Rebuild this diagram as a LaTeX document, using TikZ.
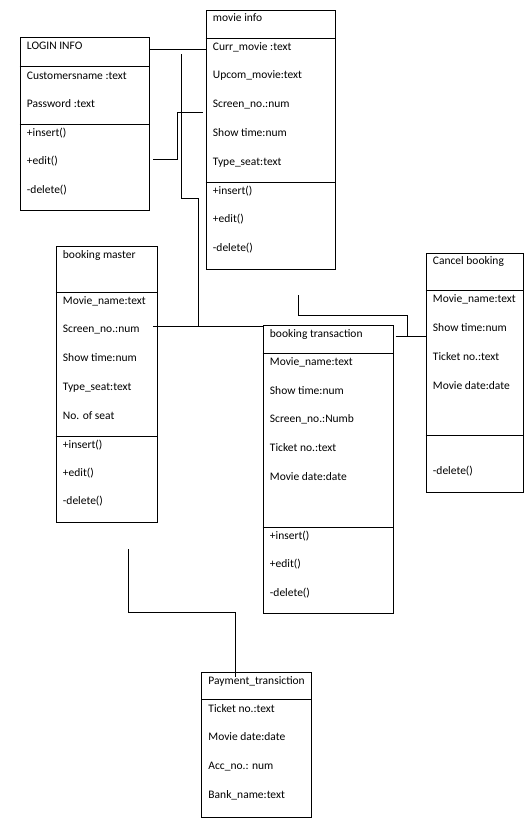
\documentclass[tikz,border=0pt]{standalone}
\usepackage{fontspec}
\setmainfont{Carlito}

\begin{document}
\begin{tikzpicture}[x=1pt,y=-1pt,line width=0.9pt,
  every node/.style={font=\fontsize{11.5}{13}\selectfont},
  cls/.style={draw,rectangle,inner sep=0,anchor=north west},
  txt/.style={inner sep=0,anchor=base west}]
\useasboundingbox[fill=white] (0,0) rectangle (530,820);
% class boxes
\node[cls,minimum width=129.5pt,minimum height=173pt] (login) at (19.5,37) {};
\node[cls,minimum width=129.5pt,minimum height=259.5pt] (movie) at (205.5,9.5) {};
\node[cls,minimum width=101.5pt,minimum height=276pt] (master) at (55.5,246) {};
\node[cls,minimum width=97pt,minimum height=239.5pt] (cancel) at (425.5,252.5) {};
\node[cls,minimum width=130pt,minimum height=287.5pt] (trans) at (262.5,325) {};
\node[cls,minimum width=110pt,minimum height=145pt] (pay) at (201,671.5) {};
% dividers
\draw ([yshift=-29pt]login.north west) -- ([yshift=-29pt]login.north east);
\draw ([yshift=-87pt]login.north west) -- ([yshift=-87pt]login.north east);
\draw ([yshift=-29pt]movie.north west) -- ([yshift=-29pt]movie.north east);
\draw ([yshift=-173pt]movie.north west) -- ([yshift=-173pt]movie.north east);
\draw ([yshift=-46pt]master.north west) -- ([yshift=-46pt]master.north east);
\draw ([yshift=-190pt]master.north west) -- ([yshift=-190pt]master.north east);
\draw ([yshift=-38pt]cancel.north west) -- ([yshift=-38pt]cancel.north east);
\draw ([yshift=-183pt]cancel.north west) -- ([yshift=-183pt]cancel.north east);
\draw ([yshift=-28.5pt]trans.north west) -- ([yshift=-28.5pt]trans.north east);
\draw ([yshift=-202pt]trans.north west) -- ([yshift=-202pt]trans.north east);
\draw ([yshift=-28pt]pay.north west) -- ([yshift=-28pt]pay.north east);
% LOGIN INFO
\node[txt] (login-t) at (26.5,49) {LOGIN INFO};
\node[txt] (login-a1) at (26.5,79) {Customersname :text};
\node[txt] (login-a2) at (26.5,107) {Password :text};
\node[txt] (login-m1) at (26.5,136) {+insert()};
\node[txt] (login-m2) at (26.5,164) {+edit()};
\node[txt] (login-m3) at (26.5,193) {-delete()};
% movie info
\node[txt] (movie-t) at (212.5,21) {movie info};
\node[txt] (movie-a1) at (212.5,50.5) {Curr\_movie :text};
\node[txt] (movie-a2) at (212.5,78.5) {Upcom\_movie:text};
\node[txt] (movie-a3) at (212.5,107) {Screen\_no.:num};
\node[txt] (movie-a4) at (212.5,136) {Show time:num};
\node[txt] (movie-a5) at (212.5,165) {Type\_seat:text};
\node[txt] (movie-m1) at (212.5,194) {+insert()};
\node[txt] (movie-m2) at (212.5,222) {+edit()};
\node[txt] (movie-m3) at (212.5,251) {-delete()};
% booking master
\node[txt] (master-t) at (62.5,258) {booking master};
\node[txt] (master-a1) at (62.5,304.5) {Movie\_name:text};
\node[txt] (master-a2) at (62.5,332.5) {Screen\_no.:num};
\node[txt] (master-a3) at (62.5,361.5) {Show time:num};
\node[txt] (master-a4) at (62.5,390.5) {Type\_seat:text};
\node[txt] (master-a5) at (62.5,419) {No. of seat};
\node[txt] (master-m1) at (62.5,448) {+insert()};
\node[txt] (master-m2) at (62.5,476) {+edit()};
\node[txt] (master-m3) at (62.5,504.5) {-delete()};
% Cancel booking
\node[txt] (cancel-t) at (432.5,264.5) {Cancel booking};
\node[txt] (cancel-a1) at (432.5,302.5) {Movie\_name:text};
\node[txt] (cancel-a2) at (432.5,331) {Show time:num};
\node[txt] (cancel-a3) at (432.5,360.5) {Ticket no.:text};
\node[txt] (cancel-a4) at (432.5,389) {Movie date:date};
\node[txt] (cancel-m1) at (432.5,474.5) {-delete()};
% booking transaction
\node[txt] (trans-t) at (269.5,337.5) {booking transaction};
\node[txt] (trans-a1) at (269.5,365.5) {Movie\_name:text};
\node[txt] (trans-a2) at (269.5,394) {Show time:num};
\node[txt] (trans-a3) at (269.5,422.5) {Screen\_no.:Numb};
\node[txt] (trans-a4) at (269.5,451) {Ticket no.:text};
\node[txt] (trans-a5) at (269.5,480) {Movie date:date};
\node[txt] (trans-m1) at (269.5,539) {+insert()};
\node[txt] (trans-m2) at (269.5,567) {+edit()};
\node[txt] (trans-m3) at (269.5,596) {-delete()};
% Payment_transiction
\node[txt] (pay-t) at (208,684) {Payment\_transiction};
\node[txt] (pay-a1) at (208,712) {Ticket no.:text};
\node[txt] (pay-a2) at (208,740.5) {Movie date:date};
\node[txt] (pay-a3) at (208,769.5) {Acc\_no.: num};
\node[txt] (pay-a4) at (208,798) {Bank\_name:text};
% connectors
\coordinate (e1) at (153,159);
\coordinate (e2) at (203,112.5);
\coordinate (f1) at (181.5,54);
\coordinate (f2) at (198.5,326);
\coordinate (f3) at (153,326);
\coordinate (g1) at (298.5,295);
\coordinate (g2) at (407.5,336);
\coordinate (g3) at (395.5,336);
\coordinate (h1) at (128.5,549);
\coordinate (h2) at (235.5,676.5);
\draw (login.east |- 0,49) -- (movie.west |- 0,49);
\draw (e1) -- ++(24.5,0) |- (e2);
\draw (f1) -- ++(0,144.5) -| (f2);
\draw (f3) -- (f3 -| trans.west);
\draw (g1) -- ++(0,20) -| (g2);
\draw (g3) -- (cancel.west |- g3);
\draw (h1) -- ++(0,63.5) -| (h2);
\end{tikzpicture}
\end{document}
